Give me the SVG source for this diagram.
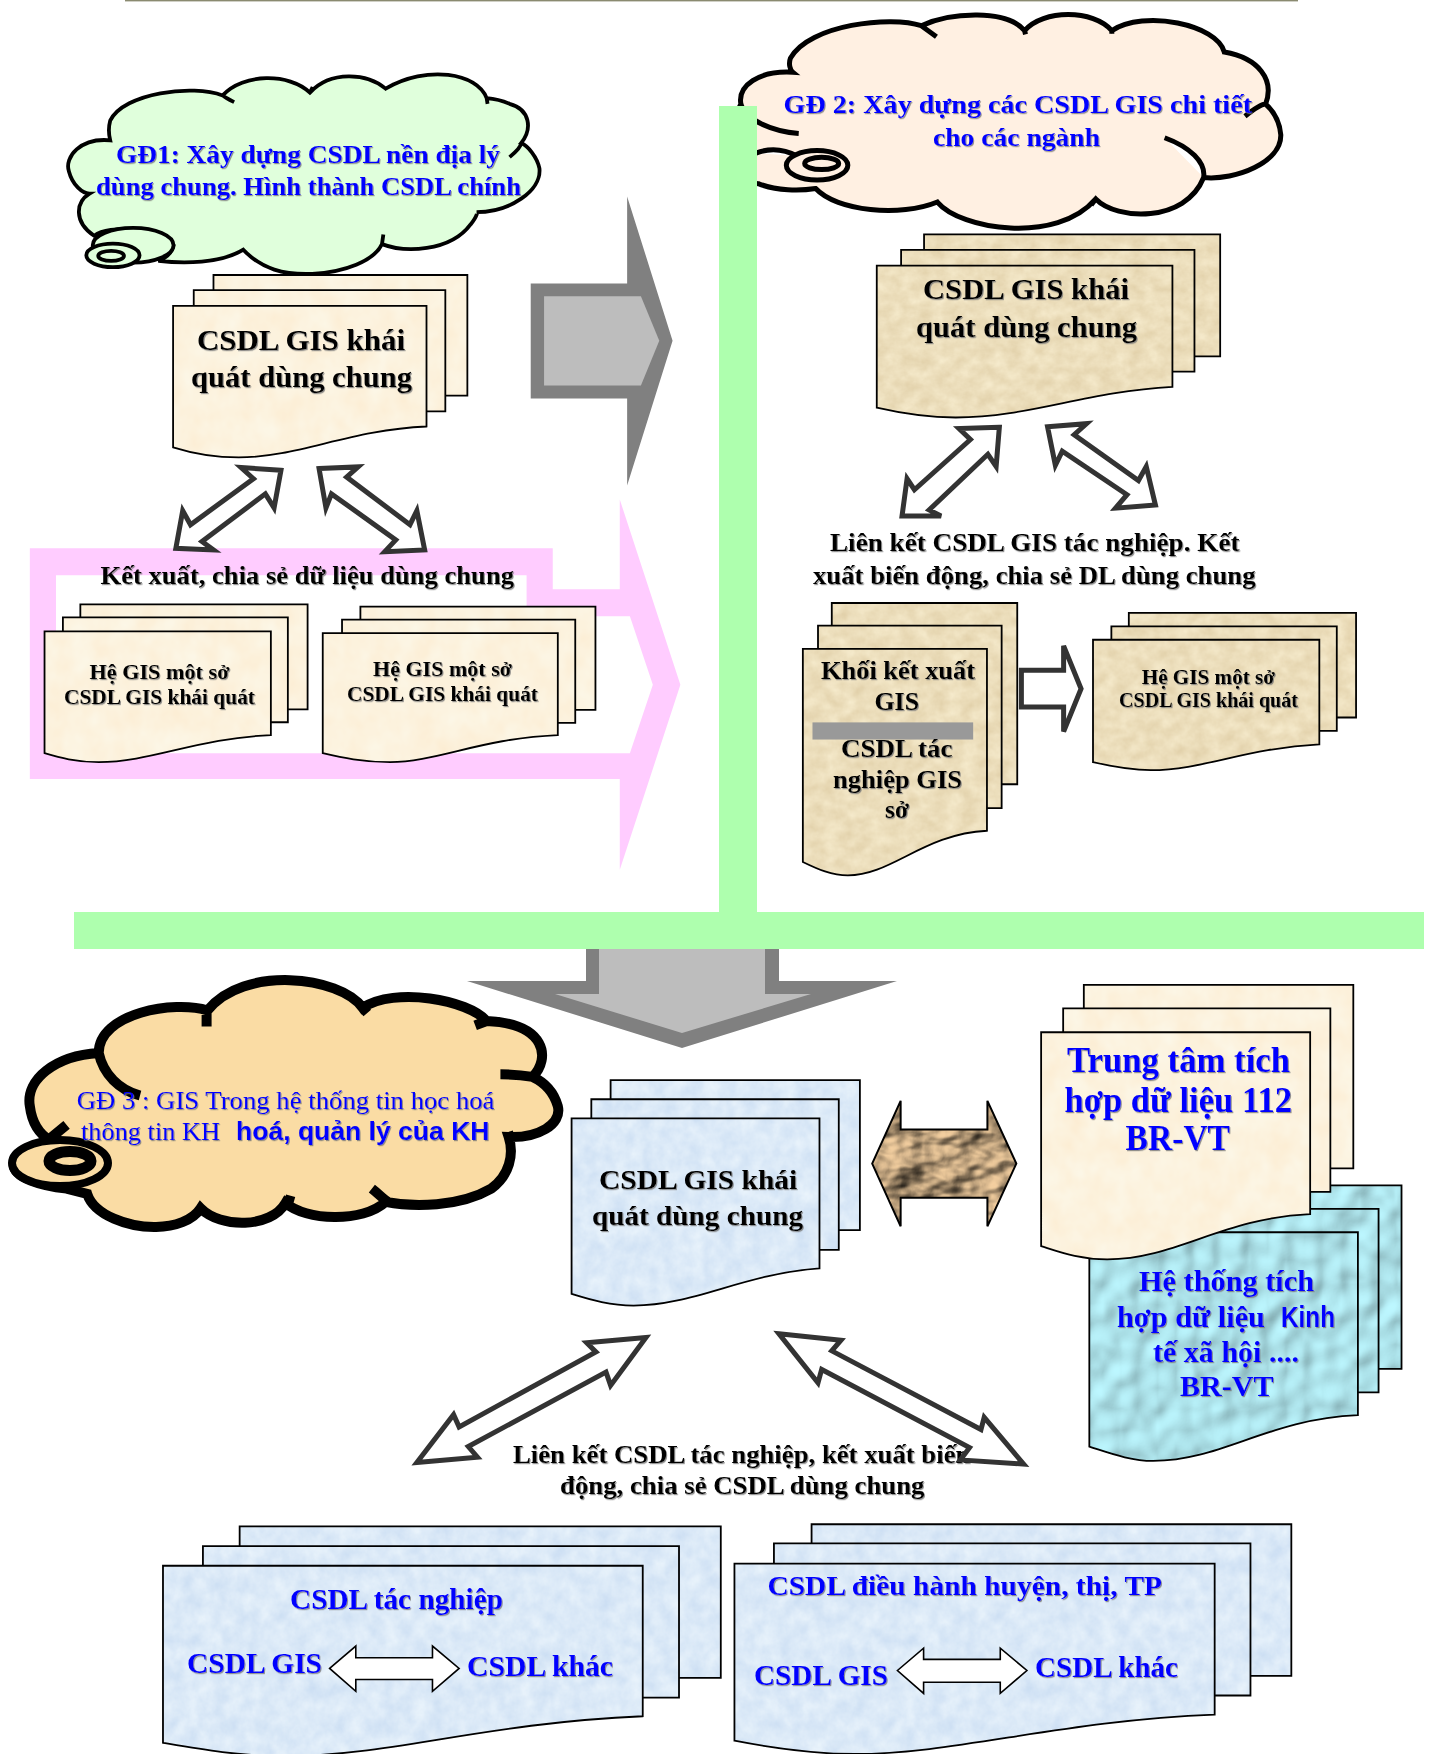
<svg xmlns="http://www.w3.org/2000/svg" width="1437" height="1754" viewBox="0 0 1437 1754">
<style>
path,rect,polygon,ellipse{vector-effect:non-scaling-stroke}
.page{stroke:#000;stroke-width:1.8}
.cream{fill:url(#pCream)}.tan{fill:url(#pTan)}.blue{fill:url(#pBlue)}.water{fill:url(#pWater)}
.dbl{fill:#fff;stroke:#333;stroke-width:5}
.thin{fill:#fff;stroke:#000;stroke-width:1.6}
.c1{stroke:#000;stroke-width:3.8}.c2{stroke:#000;stroke-width:5}
text{font-family:"Liberation Serif","Times New Roman",serif;font-weight:700;fill:#000}
.b{fill:#00f}.r{font-weight:400}.a{font-family:"Liberation Sans",Arial,sans-serif}
.sh{filter:url(#ts)}
.f21{font-size:21px}.f26{font-size:26px}.f28{font-size:28px}.f30{font-size:30px}.f35{font-size:36px}
</style>
<defs>
<filter id="ts" x="-5%" y="-20%" width="110%" height="140%"><feDropShadow dx="1" dy="1.2" stdDeviation=".6" flood-color="#777" flood-opacity=".8"/></filter>
<filter id="fCream" x="0" y="0" width="100%" height="100%" color-interpolation-filters="sRGB"><feTurbulence type="fractalNoise" baseFrequency=".02" numOctaves="3" seed="3"/><feColorMatrix values="0 0 0 0 .99  .05 0 0 0 .925  .1 0 0 0 .82  0 0 0 0 1"/></filter>
<filter id="fTan" x="0" y="0" width="100%" height="100%" color-interpolation-filters="sRGB"><feTurbulence type="fractalNoise" baseFrequency=".03 .05" numOctaves="4" seed="8"/><feColorMatrix values=".1 0 0 0 .875  .13 0 0 0 .805  .17 0 0 0 .65  0 0 0 0 1"/></filter>
<filter id="fBlue" x="0" y="0" width="100%" height="100%" color-interpolation-filters="sRGB"><feTurbulence type="fractalNoise" baseFrequency=".03" numOctaves="4" seed="5"/><feColorMatrix values=".14 0 0 0 .79  .1 0 0 0 .865  .04 0 0 0 .95  0 0 0 0 1"/></filter>
<filter id="fWater" x="0" y="0" width="100%" height="100%" color-interpolation-filters="sRGB"><feTurbulence type="fractalNoise" baseFrequency=".025" numOctaves="1" seed="11"/><feGaussianBlur stdDeviation="1.5"/><feDiffuseLighting surfaceScale="9" diffuseConstant="1.05" lighting-color="#b4ecf4"><feDistantLight azimuth="225" elevation="66"/></feDiffuseLighting></filter>
<filter id="fCrumple" x="0" y="0" width="100%" height="100%" color-interpolation-filters="sRGB"><feTurbulence type="fractalNoise" baseFrequency=".01 .018" numOctaves="3" seed="21"/><feGaussianBlur stdDeviation="1"/><feDiffuseLighting surfaceScale="26" diffuseConstant="1.05" lighting-color="#e8c598"><feDistantLight azimuth="30" elevation="52"/></feDiffuseLighting></filter>
<pattern id="pCream" patternUnits="userSpaceOnUse" width="2400" height="2000"><rect width="2400" height="2000" filter="url(#fCream)"/></pattern>
<pattern id="pTan" patternUnits="userSpaceOnUse" width="2400" height="2000"><rect width="2400" height="2000" filter="url(#fTan)"/></pattern>
<pattern id="pBlue" patternUnits="userSpaceOnUse" width="2400" height="2000"><rect width="2400" height="2000" filter="url(#fBlue)"/></pattern>
<pattern id="pWater" patternUnits="userSpaceOnUse" width="2400" height="2000"><rect width="2400" height="2000" filter="url(#fWater)"/></pattern>
<pattern id="pCrumple" patternUnits="userSpaceOnUse" width="2400" height="2000"><rect width="2400" height="2000" filter="url(#fCrumple)"/></pattern>
</defs>
<rect width="1437" height="1754" fill="#fff"/>
<rect x="125" y="0" width="1173" height="1.4" fill="#8a8a70"/>

<g id="flow-arrows">
<g id="arrow-gray-right" transform="scale(.4591,.5612)">
<polygon fill="#808080" points="1156,505 1366,505 1366,350 1465,607 1366,865 1366,710 1156,710"/>
<polygon fill="#bdbdbd" points="1185,528 1396,528 1436,607 1396,687 1185,687"/>
</g>
<g id="arrow-pink" transform="scale(.4591,.5612)">
<path fill="#fcf" d="M65,977H1204V1050H1350V890L1482,1220L1350,1550V1388H65Z"/>
<path fill="#fff" d="M122,1025H1147V1098H1372L1422,1220L1372,1342H122Z"/>
</g>
<g id="arrow-gray-down">
<polygon fill="#808080" points="586,949 586,981 467,981 682,1048 897,981 779,981 779,949"/>
<polygon fill="#bdbdbd" points="599,949 599,994 555,994 682,1033 811,994 765,994 765,949"/>
</g>
</g>

<g id="cloud-1">
<g transform="scale(.4591,.5612)">
<path class="c1" fill="#e0ffdc" d="M240,250C175,245 140,280 150,305C158,330 180,345 195,345C165,360 160,395 205,420C240,400 340,405 378,437C375,450 360,460 345,465C400,470 480,470 530,445C570,480 620,490 680,488C750,485 815,465 832,435C880,450 980,450 1025,400C1040,385 1040,378 1038,378C1110,378 1180,340 1175,300C1170,280 1150,260 1135,255C1160,230 1155,195 1110,185C1090,178 1075,176 1060,175C1040,130 930,115 840,158C800,130 720,125 675,165C630,130 530,130 485,170C420,150 270,165 240,215C235,230 237,240 240,250ZM1110,280C1125,270 1135,262 1135,255M510,182C500,178 490,174 485,170M840,158L858,150M675,165L681,155M832,435L835,418M1060,175L1062,185"/>
<ellipse cx="290" cy="437" rx="88" ry="31" fill="#e0ffdc" class="c1"/>
<ellipse cx="246" cy="455" rx="58" ry="21" fill="#e0ffdc" class="c1"/>
<ellipse cx="242" cy="456" rx="28" ry="9" fill="#e0ffdc" class="c1"/>
</g>
<text class="b f26 sh" x="116" y="163" textLength="384" lengthAdjust="spacingAndGlyphs">GĐ1: Xây dựng CSDL nền địa lý</text>
<text class="b f26 sh" x="96" y="195" textLength="425" lengthAdjust="spacingAndGlyphs">dùng chung. Hình thành CSDL chính</text>
</g>

<g id="doc-general-1">
<g transform="scale(.4591,.5612)">
<rect class="page cream" x="465" y="490" width="553" height="215"/>
<rect class="page cream" x="422" y="517" width="548" height="216"/>
<path class="page cream" d="M377,545H929V760C760,766 650,815 520,815C460,815 420,808 377,797Z"/>
</g>
<text class="f30 sh" x="197" y="350" textLength="208" lengthAdjust="spacingAndGlyphs">CSDL GIS khái</text>
<text class="f30 sh" x="191" y="387" textLength="221" lengthAdjust="spacingAndGlyphs">quát dùng chung</text>
</g>

<g id="doc-dept-1">
<g transform="scale(.4591,.5612)">
<rect class="page cream" x="175" y="1077" width="495" height="187"/>
<rect class="page cream" x="137" y="1100" width="490" height="187"/>
<path class="page cream" d="M97,1125H590V1310C430,1315 330,1358 215,1358C165,1358 130,1350 97,1342Z"/>
</g>
<text class="f21 sh" x="89.500" y="679" textLength="140" lengthAdjust="spacingAndGlyphs">Hệ GIS một sở</text>
<text class="f21 sh" x="64" y="704" textLength="191" lengthAdjust="spacingAndGlyphs">CSDL GIS khái quát</text>
</g>

<g id="doc-dept-2">
<g transform="scale(.4591,.5612)">
<rect class="page cream" x="785" y="1081" width="512" height="184"/>
<rect class="page cream" x="745" y="1104" width="508" height="184"/>
<path class="page cream" d="M703,1128H1215V1310C1050,1315 950,1358 850,1358C790,1358 745,1350 703,1342Z"/>
</g>
<text class="f21 sh" x="373" y="676" textLength="139" lengthAdjust="spacingAndGlyphs">Hệ GIS một sở</text>
<text class="f21 sh" x="347" y="701" textLength="191" lengthAdjust="spacingAndGlyphs">CSDL GIS khái quát</text>
</g>

<g id="label-export-1"><text class="f26 sh" x="100.500" y="584" textLength="413.500" lengthAdjust="spacingAndGlyphs">Kết xuất, chia sẻ dữ liệu dùng chung</text></g>

<g id="cloud-2">
<g transform="translate(717,0) scale(.4591,.6122)">
<path class="c2" fill="#fff0e2" d="M165,118C90,115 45,140 52,170C30,200 30,250 60,270C50,290 70,300 90,300C130,312 180,312 215,308C260,345 400,355 480,330C530,375 740,400 825,325C870,360 1020,365 1060,290C1130,295 1230,265 1228,220C1225,195 1210,180 1195,170C1215,130 1180,95 1105,85C1090,40 930,15 860,50C820,15 710,15 670,50C630,15 510,20 445,42C380,25 200,40 160,95C155,105 160,115 165,118ZM52,170C60,195 120,215 178,218M85,250C120,240 150,245 175,255M975,225C1030,240 1065,265 1060,290M1150,190C1175,175 1190,170 1195,170M478,60L445,42M860,55L860,45M670,50L672,56M825,325L815,335"/>
<ellipse cx="218" cy="270" rx="67" ry="24" fill="#fff0e2" class="c2"/>
<ellipse cx="228" cy="267" rx="37" ry="10" fill="#fff0e2" class="c2"/>
</g>
<text class="b f26 sh" x="783.600" y="112.500" textLength="468.400" lengthAdjust="spacingAndGlyphs">GĐ 2: Xây dựng các CSDL GIS chi tiết</text>
<text class="b f26 sh" x="933" y="146" textLength="167" lengthAdjust="spacingAndGlyphs">cho các ngành</text>
</g>

<g id="green-frame">
<rect x="719" y="106" width="38" height="810" fill="#aeffae"/>
<rect x="74" y="912" width="1350" height="37" fill="#aeffae"/>
</g>

<g id="doc-general-2">
<g transform="translate(717,0) scale(.4591,.6122)">
<rect class="page tan" x="451" y="383" width="645" height="199"/>
<rect class="page tan" x="401" y="408" width="639" height="199"/>
<path class="page tan" d="M348,434H992V632C800,640 680,682 520,682C450,682 400,675 348,666Z"/>
</g>
<text class="f30 sh" x="923" y="299" textLength="206" lengthAdjust="spacingAndGlyphs">CSDL GIS khái</text>
<text class="f30 sh" x="916" y="337" textLength="221" lengthAdjust="spacingAndGlyphs">quát dùng chung</text>
</g>

<g id="label-link-2">
<text class="f26 sh" x="830" y="551" textLength="409.500" lengthAdjust="spacingAndGlyphs">Liên kết CSDL GIS tác nghiệp. Kết</text>
<text class="f26 sh" x="813" y="583.500" textLength="442.500" lengthAdjust="spacingAndGlyphs">xuất biến động, chia sẻ DL dùng chung</text>
</g>

<g id="doc-export-block">
<g transform="translate(717,0) scale(.4591,.6122)">
<rect class="page tan" x="250" y="985" width="404" height="296"/>
<rect class="page tan" x="220" y="1022" width="400" height="298"/>
<path class="page tan" d="M187,1060H588V1357C450,1362 380,1430 285,1430C250,1430 220,1420 187,1408Z"/>
<rect x="208" y="1180" width="350" height="28" fill="#999"/>
</g>
<text class="f26 sh" x="821" y="679" textLength="154" lengthAdjust="spacingAndGlyphs">Khối kết xuất</text>
<text class="f26 sh" x="874.500" y="710" textLength="44.500" lengthAdjust="spacingAndGlyphs">GIS</text>
<text class="f26 sh" x="841" y="757" textLength="111.500" lengthAdjust="spacingAndGlyphs">CSDL tác</text>
<text class="f26 sh" x="833" y="787.500" textLength="129" lengthAdjust="spacingAndGlyphs">nghiệp GIS</text>
<text class="f26 sh" x="885" y="818" textLength="24" lengthAdjust="spacingAndGlyphs">sở</text>
</g>

<g id="doc-dept-3">
<g transform="translate(717,0) scale(.4591,.6122)">
<rect class="page tan" x="897" y="1001" width="495" height="171"/>
<rect class="page tan" x="859" y="1023" width="491" height="171"/>
<path class="page tan" d="M819,1045H1312V1216C1150,1222 1060,1258 945,1258C900,1258 860,1252 819,1245Z"/>
</g>
<text class="f21 sh" x="1141.700" y="683.500" textLength="133.300" lengthAdjust="spacingAndGlyphs">Hệ GIS một sở</text>
<text class="f21 sh" x="1119" y="706.500" textLength="179" lengthAdjust="spacingAndGlyphs">CSDL GIS khái quát</text>
</g>

<g id="cloud-3">
<g transform="translate(0,920) scale(.4591,.5319)">
<path fill="#fadca4" stroke="#000" stroke-width="10" d="M215,250C120,255 55,300 65,350C70,385 90,405 110,415C80,425 30,435 30,460C30,485 90,500 145,505L190,515C205,555 280,578 340,577C380,577 420,565 437,542C480,580 590,580 622,532C665,565 790,570 840,530C900,540 1000,540 1070,505C1110,480 1120,440 1108,408C1170,410 1225,385 1215,350C1205,320 1185,305 1160,295C1200,260 1190,195 1060,190C1020,150 860,125 790,165C740,105 530,85 452,170C380,150 215,175 215,250ZM215,250C225,290 260,320 305,330M110,410L145,385M1035,198L1060,190M1090,290C1120,290 1140,292 1160,295M1100,410L1120,405M810,505C825,515 835,525 845,530M450,170L450,200M790,165L800,175M620,525L640,530"/>
</g>
<ellipse cx="60" cy="1163" rx="48" ry="23" fill="#fadca4" stroke="#000" stroke-width="8"/>
<ellipse cx="70" cy="1161" rx="21" ry="9.500" fill="#fadca4" stroke="#000" stroke-width="11"/>
<text class="b r f26 sh" x="76.700" y="1108.500" textLength="417.800" lengthAdjust="spacingAndGlyphs">GĐ 3 : GIS Trong hệ thống tin học hoá</text>
<text class="b r f26 sh" y="1140"><tspan x="81" textLength="139" lengthAdjust="spacingAndGlyphs">thông tin KH</tspan><tspan class="a" style="font-weight:700" x="236" textLength="253.500" lengthAdjust="spacingAndGlyphs">hoá, quản lý của KH</tspan></text>
</g>

<g id="doc-central">
<g transform="translate(0,920) scale(.4591,.5319)">
<rect class="page blue" x="1330" y="301" width="543" height="282"/>
<rect class="page blue" x="1288" y="337" width="539" height="283"/>
<path class="page blue" d="M1245,373H1785V655C1620,665 1510,725 1380,725C1330,725 1290,715 1245,703Z"/>
</g>
<text class="f28 sh" x="599" y="1189" textLength="198.300" lengthAdjust="spacingAndGlyphs">CSDL GIS khái</text>
<text class="f28 sh" x="592" y="1224.500" textLength="211" lengthAdjust="spacingAndGlyphs">quát dùng chung</text>
</g>

<g id="doc-kt-xh">
<g transform="translate(717,920) scale(.4591,.5319)">
<rect class="page water" x="900" y="499" width="591" height="345"/>
<rect class="page water" x="856" y="543" width="585" height="345"/>
<path class="page water" d="M811,587H1396V931C1200,938 1100,1017 950,1017C900,1017 855,1002 811,990Z"/>
</g>
<text class="b f30 sh" x="1139" y="1291" textLength="175" lengthAdjust="spacingAndGlyphs">Hệ thống tích</text>
<text class="b f30 sh" y="1326.500"><tspan x="1117" textLength="148" lengthAdjust="spacingAndGlyphs">hợp dữ liệu</tspan><tspan class="a" x="1281" textLength="54" lengthAdjust="spacingAndGlyphs">Kinh</tspan></text>
<text class="b f30 sh" x="1153" y="1361.500" textLength="146" lengthAdjust="spacingAndGlyphs">tế xã hội ....</text>
<text class="b f30 sh" x="1180" y="1396" textLength="93.500" lengthAdjust="spacingAndGlyphs">BR-VT</text>
</g>

<g id="doc-center-112">
<g transform="translate(717,920) scale(.4591,.5319)">
<rect class="page cream" x="799" y="122" width="587" height="345"/>
<rect class="page cream" x="754" y="166" width="582" height="345"/>
<path class="page cream" d="M706,211H1292V553C1100,560 1000,638 850,638C790,638 750,625 706,613Z"/>
</g>
<text class="b f35 sh" x="1067" y="1071.600" textLength="223" lengthAdjust="spacingAndGlyphs">Trung tâm tích</text>
<text class="b f35 sh" x="1064.500" y="1111.500" textLength="227.500" lengthAdjust="spacingAndGlyphs">hợp dữ liệu 112</text>
<text class="b f35 sh" x="1125.600" y="1150" textLength="104.400" lengthAdjust="spacingAndGlyphs">BR-VT</text>
</g>

<g id="doc-operations">
<g transform="translate(0,920) scale(.4591,.5319)">
<rect class="page blue" x="522" y="1140" width="1048" height="285"/>
<rect class="page blue" x="442" y="1177" width="1037" height="285"/>
<path class="page blue" d="M355,1214H1400V1497C1050,1510 850,1572 620,1572C520,1572 430,1558 355,1547Z"/>
</g>
<text class="b f30 sh" x="290" y="1609" textLength="213" lengthAdjust="spacingAndGlyphs">CSDL tác nghiệp</text>
<text class="b f30 sh" x="187" y="1672.600" textLength="135" lengthAdjust="spacingAndGlyphs">CSDL GIS</text>
<text class="b f30 sh" x="467" y="1676" textLength="146" lengthAdjust="spacingAndGlyphs">CSDL khác</text>
</g>

<g id="doc-district">
<g transform="translate(717,920) scale(.4591,.5319)">
<rect class="page blue" x="206" y="1136" width="1045" height="285"/>
<rect class="page blue" x="124" y="1172" width="1038" height="286"/>
<path class="page blue" d="M38,1210H1084V1494C750,1505 520,1568 300,1568C200,1568 110,1555 38,1543Z"/>
</g>
<text class="b f28 sh" x="767.500" y="1594.500" textLength="394.500" lengthAdjust="spacingAndGlyphs">CSDL điều hành huyện, thị, TP</text>
<text class="b f30 sh" x="754" y="1685" textLength="134" lengthAdjust="spacingAndGlyphs">CSDL GIS</text>
<text class="b f30 sh" x="1035" y="1677" textLength="143" lengthAdjust="spacingAndGlyphs">CSDL khác</text>
</g>

<g id="label-link-3">
<text class="f26 sh" x="513" y="1462.500" textLength="457.400" lengthAdjust="spacingAndGlyphs">Liên kết CSDL tác nghiệp, kết xuất biến</text>
<text class="f26 sh" x="560" y="1493.500" textLength="364.500" lengthAdjust="spacingAndGlyphs">động, chia sẻ CSDL dùng chung</text>
</g>

<g id="connectors">
<g transform="scale(.4591,.5612)">
<polygon class="dbl" points="612,838 525,833 552,853 415,935 398,910 383,977 465,980 440,965 578,880 597,905"/>
<polygon class="dbl" points="695,835 780,832 755,850 893,935 908,910 925,980 838,983 862,962 722,880 710,905"/>
</g>
<g transform="translate(717,0) scale(.4591,.6122)">
<polygon class="dbl" points="615,698 527,700 552,718 430,800 414,782 403,843 488,843 462,833 590,742 608,762"/>
<polygon class="dbl" points="720,697 805,692 778,710 918,785 935,762 955,825 868,830 893,808 752,737 737,760"/>
<polygon class="dbl" points="663,1095 755,1095 755,1055 793,1125 755,1195 755,1155 663,1155"/>
</g>
<g transform="translate(0,920) scale(.4591,.5319)">
<polygon class="dbl" points="1407,785 1278,795 1298,812 1000,953 988,930 908,1020 1040,1010 1020,990 1320,850 1330,875"/>
<polygon class="thin" points="718,1407 775,1365 775,1387 942,1387 942,1365 1000,1407 942,1450 942,1428 775,1428 775,1450"/>
</g>
<g transform="translate(717,920) scale(.4591,.5319)">
<polygon class="dbl" points="135,778 270,790 250,810 575,958 582,935 668,1023 530,1015 550,992 228,845 220,870"/>
<polygon class="thin" points="393,1411 450,1369 450,1390 617,1390 617,1369 675,1411 617,1454 617,1433 450,1433 450,1454"/>
<polygon fill="url(#pCrumple)" stroke="#000" stroke-width="2" points="338,458 400,340 400,394 589,394 589,340 652,458 589,576 589,522 400,522 400,576"/>
</g>
</g>
</svg>
